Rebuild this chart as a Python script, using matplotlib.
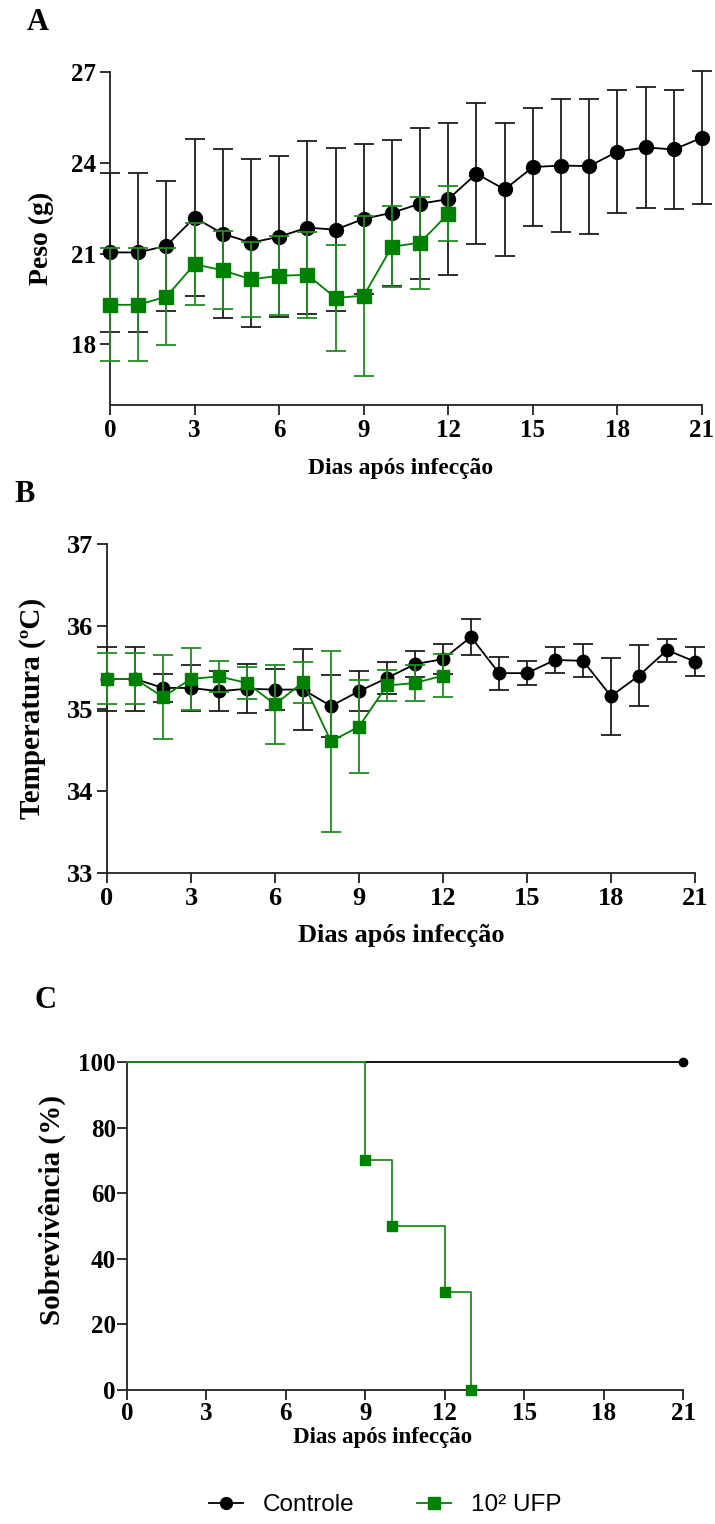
import matplotlib
matplotlib.use('Agg')
import matplotlib.pyplot as plt
from matplotlib.lines import Line2D

# ---------------- data ----------------
days_ctrl = list(range(22))
days_ufp = list(range(13))

peso_ctrl = [21.04, 21.04, 21.26, 22.19, 21.66, 21.36, 21.56, 21.86, 21.79, 22.15, 22.35,
             22.65, 22.80, 23.64, 23.12, 23.86, 23.91, 23.89, 24.37, 24.51, 24.44, 24.83]
peso_ctrl_sd = [2.62, 2.62, 2.15, 2.60, 2.79, 2.77, 2.65, 2.87, 2.70, 2.47, 2.42,
                2.50, 2.51, 2.33, 2.20, 1.94, 2.21, 2.23, 2.03, 2.01, 1.97, 2.20]
peso_ufp = [19.31, 19.31, 19.58, 20.65, 20.45, 20.15, 20.27, 20.30, 19.54, 19.61, 21.23, 21.36, 22.32]
peso_ufp_sd = [1.87, 1.87, 1.60, 1.35, 1.29, 1.23, 1.31, 1.42, 1.75, 2.64, 1.33, 1.52, 0.90]

temp_ctrl = [35.36, 35.36, 35.25, 35.25, 35.21, 35.24, 35.23, 35.23, 35.03, 35.21, 35.37,
             35.54, 35.60, 35.87, 35.43, 35.43, 35.59, 35.58, 35.15, 35.40, 35.71, 35.57]
temp_ctrl_sd = [0.39, 0.39, 0.17, 0.28, 0.24, 0.30, 0.25, 0.49, 0.38, 0.24, 0.19,
                0.16, 0.18, 0.22, 0.20, 0.15, 0.16, 0.20, 0.47, 0.37, 0.14, 0.18]
temp_ufp = [35.36, 35.36, 35.14, 35.36, 35.39, 35.31, 35.05, 35.32, 34.60, 34.78, 35.28, 35.31, 35.40]
temp_ufp_sd = [0.31, 0.31, 0.51, 0.38, 0.19, 0.20, 0.48, 0.25, 1.10, 0.57, 0.19, 0.22, 0.26]

surv_days_ctrl = [0, 21]
surv_ctrl = [100, 100]
surv_days_ufp = [0, 9, 10, 12, 13]
surv_ufp = [100, 70, 50, 30, 0]

x_ticks = [0, 3, 6, 9, 12, 15, 18, 21]
labels = ['Controle', '10² UFP']
panel_letters = ['A', 'B', 'C']

# ---------------- style ----------------
plt.rcParams['font.family'] = ['Liberation Serif', 'DejaVu Serif']
plt.rcParams['font.weight'] = 'bold'
plt.rcParams['axes.labelweight'] = 'bold'

BLACK = '#000000'
EBLACK = '#1e1e1e'
GREEN = '#008000'
EGREEN = '#1f8f1f'

W, H = 715, 1524
fig = plt.figure(figsize=(W / 100, H / 100), dpi=100)


def rect(l, r, t, b):
    return [l / W, 1 - b / H, (r - l) / W, (b - t) / H]


def style_axes(ax, size):
    for s in ['top', 'right']:
        ax.spines[s].set_visible(False)
    for s in ['left', 'bottom']:
        ax.spines[s].set_linewidth(1.3)
        ax.spines[s].set_color('#222222')
    ax.tick_params(direction='out', length=7, width=1.3, labelsize=size, pad=3, color='#222222')
    for t in ax.get_xticklabels() + ax.get_yticklabels():
        t.set_fontweight('bold')


def eb(ax, x, y, e, color, ecolor, marker, ms, z):
    res = ax.errorbar(x, y, yerr=e, fmt='-' + marker, color=color, ecolor=ecolor,
                      elinewidth=1.3, capsize=7, capthick=1.3, markersize=ms,
                      lw=1.3, zorder=z)
    res[0].set_clip_on(False)
    for a in res[1]:
        a.set_clip_on(False)
    for a in res[2]:
        a.set_clip_on(False)
    return res

# ---------------- Panel A ----------------
axA = fig.add_axes(rect(110, 702, 72, 405))
eb(axA, days_ctrl, peso_ctrl, peso_ctrl_sd, BLACK, EBLACK, 'o', 10, 3)
eb(axA, days_ufp, peso_ufp, peso_ufp_sd, GREEN, EGREEN, 's', 9.5, 4)
axA.set_xlim(0, 21)
axA.set_ylim(16, 27)
axA.set_xticks(x_ticks)
axA.set_yticks([18, 21, 24, 27])
style_axes(axA, 18)
axA.set_ylabel('Peso (g)', fontsize=20, fontweight='bold')
axA.yaxis.set_label_coords(-0.115, 0.5)
axA.yaxis.label.set_va('center')
axA.set_xlabel('Dias após infecção', fontsize=17, fontweight='bold')
axA.xaxis.set_label_coords(0.49, -0.19)
axA.xaxis.label.set_va('center')

# ---------------- Panel B ----------------
axB = fig.add_axes(rect(107, 695, 544, 873))
eb(axB, days_ctrl, temp_ctrl, temp_ctrl_sd, BLACK, EBLACK, 'o', 9, 3)
eb(axB, days_ufp, temp_ufp, temp_ufp_sd, GREEN, EGREEN, 's', 9, 4)
axB.set_xlim(0, 21)
axB.set_ylim(33, 37)
axB.set_xticks(x_ticks)
axB.set_yticks([33, 34, 35, 36, 37])
style_axes(axB, 19)
axB.set_ylabel('Temperatura (ºC)', fontsize=21, fontweight='bold')
axB.yaxis.set_label_coords(-0.126, 0.5)
axB.yaxis.label.set_va('center')
axB.set_xlabel('Dias após infecção', fontsize=19, fontweight='bold')
axB.xaxis.set_label_coords(0.50, -0.19)
axB.xaxis.label.set_va('center')

# ---------------- Panel C ----------------
axC = fig.add_axes(rect(127, 683, 1062, 1390))
axC.step(surv_days_ctrl, surv_ctrl, where='post', color=BLACK, lw=1.3, zorder=3, clip_on=False)
axC.plot(surv_days_ctrl[-1:], surv_ctrl[-1:], 'o', color=BLACK, ms=6, zorder=5, clip_on=False)
axC.step(surv_days_ufp, surv_ufp, where='post', color=EGREEN, lw=1.3, zorder=4, clip_on=False)
axC.plot(surv_days_ufp[1:], surv_ufp[1:], 's', color=GREEN, ms=6.5, zorder=6, clip_on=False)
axC.set_xlim(0, 21)
axC.set_ylim(0, 100)
axC.set_xticks(x_ticks)
axC.set_yticks([0, 20, 40, 60, 80, 100])
style_axes(axC, 18)
axC.tick_params(axis='y', pad=1)
axC.tick_params(axis='x', pad=2)
axC.set_ylabel('Sobrevivência (%)', fontsize=21, fontweight='bold')
axC.yaxis.set_label_coords(-0.135, 0.55)
axC.yaxis.label.set_va('center')
axC.set_xlabel('Dias após infecção', fontsize=16.5, fontweight='bold')
axC.xaxis.set_label_coords(0.46, -0.145)
axC.xaxis.label.set_va('center')

# ---------------- panel letters ----------------
for letter, (px, py) in zip(panel_letters, [(38, 22), (25, 494), (45, 1000)]):
    fig.text(px / W, 1 - py / H, letter, fontsize=22, fontweight='bold',
             ha='center', va='center')

# ---------------- legend ----------------
handles = [Line2D([], [], color=BLACK, marker='o', ms=8.5, lw=1.3),
           Line2D([], [], color=GREEN, marker='s', ms=8.5, lw=1.3)]
fig.legend(handles, labels, loc='center', bbox_to_anchor=(385 / W, 1 - 1505 / H),
           ncol=2, frameon=False, handlelength=1.4, handletextpad=0.8,
           columnspacing=2.6, prop={'family': 'Liberation Sans', 'size': 17.5, 'weight': 'normal'})

fig.savefig('out.png', dpi=100)
